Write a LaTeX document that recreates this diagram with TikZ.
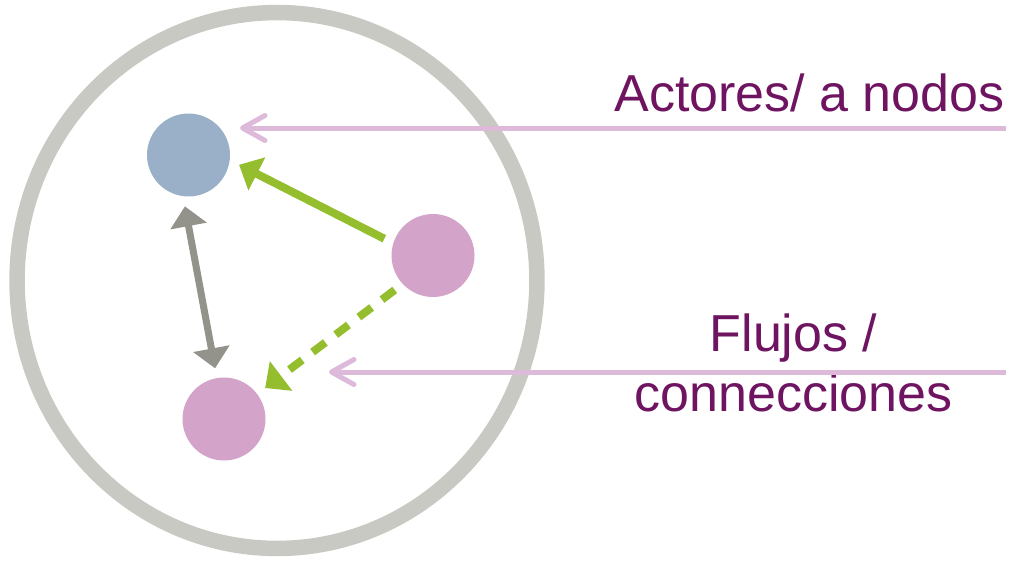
\documentclass[tikz,border=0pt]{standalone}
\usepackage{fontspec}
\setmainfont{Liberation Sans}
\usetikzlibrary{arrows.meta}
\definecolor{ringgray}{HTML}{C8C9C3}
\definecolor{actorblue}{HTML}{9AB0C8}
\definecolor{actorpink}{HTML}{D3A3C9}
\definecolor{flowgreen}{HTML}{95BE2E}
\definecolor{linkgray}{HTML}{93938B}
\definecolor{pointpink}{HTML}{DDB9DA}
\definecolor{tagpurple}{HTML}{6F1461}
\begin{document}
\begin{tikzpicture}[x=0.02cm,y=-0.02cm,
    actor/.style={circle,minimum size=1.66cm,inner sep=0pt,outer sep=0.2cm},
    flow/.style={line width=0.16cm,-{Triangle[length=0.4cm,width=0.72cm]}},
    pointer/.style={draw=pointpink,line width=0.1cm,-{Straight Barb[length=0.45cm,width=0.5cm,round]}},
    tag/.style={text=tagpurple,font=\fontsize{29.6}{34}\selectfont,inner sep=0pt}]
  \useasboundingbox (0,0) rectangle (1013,561);
  % network boundary
  \draw[ringgray,line width=0.31cm] (277,280.5) ellipse [x radius=5.2cm,y radius=5.36cm];
  % actors
  \node[actor,fill=actorblue] (blue) at (188.5,155) {};
  \node[actor,fill=actorpink] (pinkR) at (433,255.5) {};
  \node[actor,fill=actorpink] (pinkB) at (224,419) {};
  % flows
  \draw[flow,flowgreen] (pinkR.161) -- (blue.-11);
  \draw[flow,flowgreen,dash pattern=on 0.32cm off 0.26cm] (pinkR.222) -- (pinkB.37);
  \draw[flow,linkgray,line width=0.14cm,{Triangle[length=0.4cm,width=0.72cm]}-{Triangle[length=0.4cm,width=0.72cm]}] (blue.266) -- (pinkB.100);
  % labels
  \node[tag,anchor=base east] (actlabel) at (1005,111) {Actores/ a nodos};
  \node[tag,anchor=base,align=center] (flowlabel) at (793.5,411) {Flujos /\\connecciones};
  \coordinate (actR) at (1006,128);
  \coordinate (flowR) at (1006,372);
  \coordinate (flowtip) at (329,372);
  \draw[pointer] (actR) -- (actR -| blue.east);
  \draw[pointer] (flowR) -- (flowtip);
\end{tikzpicture}
\end{document}
